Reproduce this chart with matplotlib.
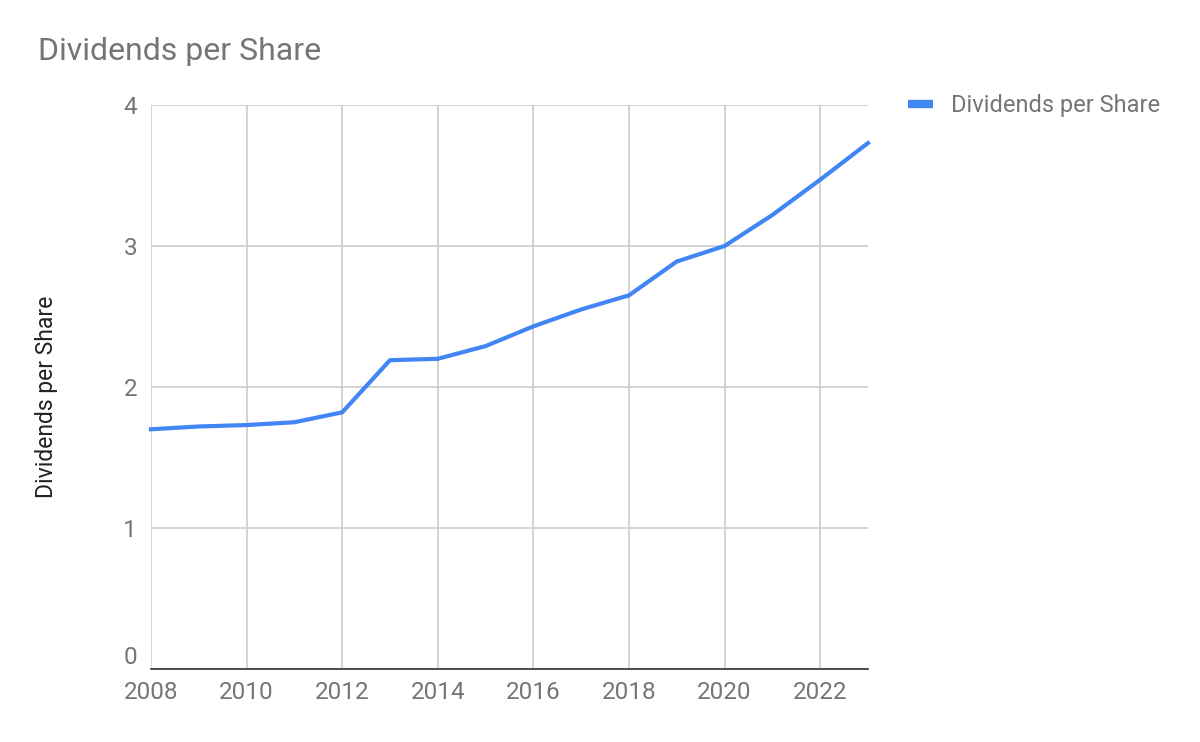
import matplotlib.pyplot as plt

plt.rcParams['font.family'] = ['Roboto', 'DejaVu Sans']

years = list(range(2008, 2024))
dividends = [1.70, 1.72, 1.73, 1.75, 1.82, 2.19, 2.20, 2.29, 2.43, 2.55, 2.65,
             2.89, 3.00, 3.22, 3.47, 3.73]
x_ticks = [2008, 2010, 2012, 2014, 2016, 2018, 2020, 2022]
y_ticks = [0, 1, 2, 3, 4]

fig = plt.figure(figsize=(12, 7.42), dpi=100)
ax = fig.add_axes([0.1258, 0.0984, 0.5975, 0.7601])

line, = ax.plot(years, dividends, color='#4285f4', linewidth=3, label='Dividends per Share',
                solid_joinstyle='round', clip_on=False)

ax.set_xlim(2008, 2023)
ax.set_ylim(0, 4)
ax.set_xticks(x_ticks)
ax.set_yticks(y_ticks)
ax.grid(True, color='#cccccc', linewidth=1.2)
ax.set_axisbelow(True)
for s in ['top', 'right', 'left']:
    ax.spines[s].set_visible(False)
ax.spines['bottom'].set_color('#333333')
ax.spines['bottom'].set_linewidth(1.2)
ax.tick_params(axis='both', length=0, labelsize=17.5, labelcolor='#757575')
ax.tick_params(axis='x', pad=9)
ax.tick_params(axis='y', pad=10)
# nudge the "0" up a little so it clears the 2008 label
ax.get_yticklabels()[0].set_va('bottom')

# y axis title, placed by hand
fig.text(47 / 1200, 1 - 397 / 742, 'Dividends per Share', rotation=90, fontsize=16.5,
         color='#222222', ha='center', va='center')
fig.text(0.0317, 0.930, 'Dividends per Share', fontsize=23, color='#757575', va='center')

leg = fig.legend(handles=[line], loc='center left', bbox_to_anchor=(0.757, 0.858), frameon=False,
                 fontsize=17, labelcolor='#757575', handlelength=1.05, handletextpad=0.75,
                 borderpad=0, borderaxespad=0)
for h in leg.get_lines():
    h.set_linewidth(6)
    h.set_solid_capstyle('butt')

fig.savefig('out.png', dpi=100)
